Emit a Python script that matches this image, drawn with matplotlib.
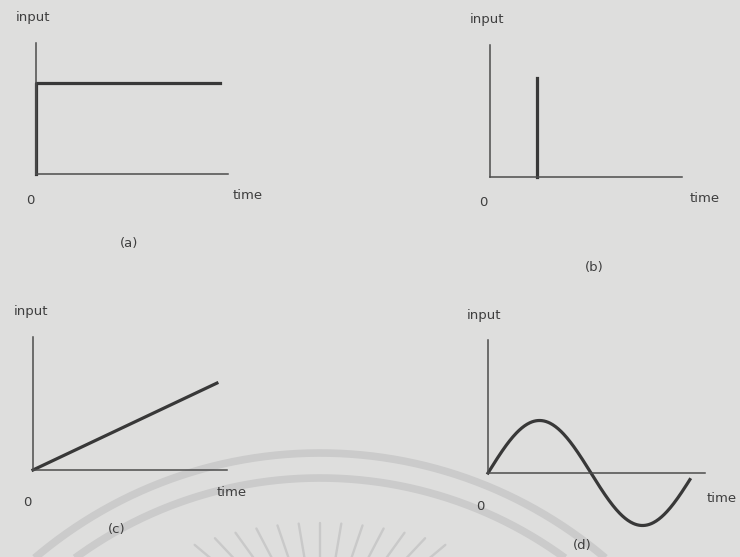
import numpy as np
import matplotlib.pyplot as plt

W, H = 740, 557
BG = '#dededd'
INK = '#383838'
AXIS = '#4c4c4c'
MARK = '#cbcbcb'

# (a) step input
step_time = [0, 0, 9.6]
step_value = [0, 1, 1]

# (b) impulse input
impulse_time = [2.45, 2.45]
impulse_value = [0, 1]

# (c) ramp input
ramp_time = [0, 9.48]
ramp_value = [0, 4.48]

# (d) sinusoidal input
sine_amplitude = 1.0
sine_cycles = 0.98

labels = ['(a)', '(b)', '(c)', '(d)']

fig = plt.figure(figsize=(W / 100, H / 100), dpi=100, facecolor=BG)

# faint seal in the background: two arcs and a fan of rays
bg = fig.add_axes([0, 0, 1, 1], zorder=-1)
bg.set_xlim(0, W)
bg.set_ylim(H, 0)
bg.axis('off')
arc_cx, arc_cy = 320, 893
for r in (440, 415):
    th = np.radians(np.linspace(20, 160, 400))
    bg.plot(arc_cx + r * np.cos(th), arc_cy - r * np.sin(th), color=MARK, lw=5.5,
            solid_capstyle='butt')
# ray tips sit on an inner circle, each ray points down to the sun centre
sun_x, sun_y = 320, 650
for phi in np.radians(np.arange(-6, 7) * 3.3):
    tx = arc_cx + 370 * np.sin(phi)
    ty = arc_cy - 370 * np.cos(phi)
    d = np.array([sun_x - tx, sun_y - ty])
    d /= np.hypot(*d)
    bg.plot([tx, tx + 70 * d[0]], [ty, ty + 70 * d[1]], color='#c9c9c9', lw=1.7,
            solid_capstyle='round')


def panel(ox, oy, sx, sy, xlim, ylim):
    """Axes whose data origin sits at pixel (ox, oy), sx/sy pixels per unit."""
    left = ox + xlim[0] * sx
    bottom = oy - ylim[0] * sy
    ax = fig.add_axes([left / W, 1 - bottom / H,
                       (xlim[1] - xlim[0]) * sx / W, (ylim[1] - ylim[0]) * sy / H])
    ax.set_xlim(xlim)
    ax.set_ylim(ylim)
    ax.patch.set_visible(False)
    ax.set_xticks([])
    ax.set_yticks([])
    ax.spines['top'].set_visible(False)
    ax.spines['right'].set_visible(False)
    ax.spines['bottom'].set_position(('data', 0))
    ax.spines['left'].set_bounds(0, ylim[1])
    for s in ('left', 'bottom'):
        ax.spines[s].set_color(AXIS)
        ax.spines[s].set_linewidth(1.1)
    return ax


def txt(x, y, s):
    fig.text(x / W, 1 - y / H, s, ha='center', va='center', fontsize=9.5, color='#3e3e3e')


lw = 2.3

ax = panel(36, 174, 19.2, 91, (0, 10), (0, 131 / 91))
ax.plot(step_time, step_value, color=INK, lw=lw, clip_on=False)

ax = panel(490, 177, 19.2, 99, (0, 10), (0, 132 / 99))
ax.plot(impulse_time, impulse_value, color=INK, lw=lw, clip_on=False)

ax = panel(33, 470, 19.4, 19.4, (0, 10), (0, 133 / 19.4))
ax.plot(ramp_time, ramp_value, color=INK, lw=lw, clip_on=False)

sx = 206 / (2 * np.pi)
ax = panel(488, 473, sx, 52.5, (0, 217 / sx), (-1.1, 133 / 52.5))
t = np.linspace(0, sine_cycles * 2 * np.pi, 300)
ax.plot(t, sine_amplitude * np.sin(t), color=INK, lw=lw, clip_on=False)

# axis names and captions
for (ix, iy), (zx, zy), (tx, ty), (cx, cy), lab in zip(
        [(33, 18), (487, 20), (31, 312), (484, 315)],
        [(30, 200), (483, 203), (27, 503), (480, 506)],
        [(248, 195), (705, 198), (232, 492), (722, 498)],
        [(129, 244), (594, 267), (117, 530), (582, 546)],
        labels):
    txt(ix, iy, 'input')
    txt(zx, zy, '0')
    txt(tx, ty, 'time')
    txt(cx, cy, lab)

fig.savefig('out.png', dpi=100, facecolor=BG)
